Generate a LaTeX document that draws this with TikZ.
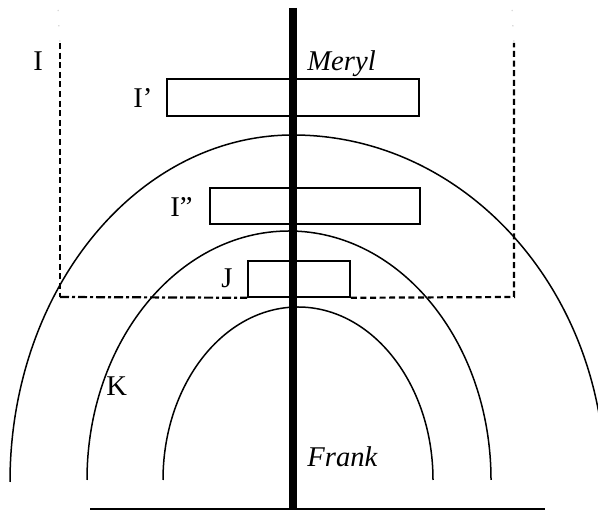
\documentclass[tikz,border=0pt]{standalone}
\usepackage{fontspec}
\setmainfont{Liberation Serif}
\begin{document}
\begin{tikzpicture} % Esquema Meryl - Frank
  [
    x=0.5pt, y=0.5pt,
    % Definimos los estilos para no repetir código
    caja/.style={draw, rectangle, line width=0.8pt, minimum height=18pt, inner sep=0pt},
    etiqueta/.style={anchor=base west, inner sep=0pt, font=\fontsize{14.3}{17}\selectfont},
    arco/.style={line width=0.75pt},
    marco/.style={line width=1.1pt, dash pattern=on 3pt off 1.8pt},
    marcopunto/.style={line width=1.1pt, dash pattern=on 4.5pt off 1.5pt on 1.5pt off 1.5pt},
    tenue/.style={gray!45, line width=0.5pt, dash pattern=on 0.6pt off 7pt}
  ]
  \useasboundingbox (0,0) rectangle (598,512);
  \clip (0,0) rectangle (598,512);
  % arcos
  \draw[arco] (10,30) arc[start angle=180, end angle=90, x radius=283, y radius=347]
    arc[start angle=90, end angle=0, x radius=312, y radius=347];
  \draw[arco] (87,32) arc[start angle=180, end angle=0, x radius=202, y radius=249];
  \draw[arco] (163,32) arc[start angle=180, end angle=0, x radius=135, y radius=173];
  % cajas
  \node[caja, minimum width=126pt, minimum height=18.5pt] (cajaIp) at (293,414.5) {};
  \node[caja, minimum width=105pt] (cajaIpp) at (315,306) {};
  \node[caja, minimum width=51pt] (cajaJ) at (299,233) {};
  % marco punteado
  \coordinate (mSupIzq) at (60,469);
  \coordinate (mInfIzq) at (60,215);
  \coordinate (mSupDer) at (514,469);
  \coordinate (mInfDer) at (514,215);
  \draw[marco] (mSupIzq) -- (mInfIzq);
  \draw[marcopunto] (mInfIzq) -- (cajaJ.south west);
  \draw[marco] (cajaJ.south east) -- (mInfDer) -- (mSupDer);
  \draw[tenue] (58,502) -- (mSupIzq);
  \draw[tenue] (512,502) -- (mSupDer);
  % eje vertical y base
  \coordinate (ejeSup) at (293,504);
  \coordinate (ejeInf) at (293,2);
  \coordinate (baseIzq) at (90,3);
  \coordinate (baseDer) at (545,3);
  \draw[line width=3.7pt] (ejeSup) -- (ejeInf);
  \draw[line width=0.8pt] (baseIzq) -- (baseDer);
  % etiquetas
  \node[etiqueta] (tI) at (33,441) {I};
  \node[etiqueta] (tIp) at (133,404) {I’};
  \node[etiqueta] (tIpp) at (170,295) {I”};
  \node[etiqueta] (tJ) at (221,224) {J};
  \node[etiqueta] (tK) at (106,116) {K};
  \node[etiqueta] (tMeryl) at (307,441) {\itshape Meryl};
  \node[etiqueta] (tFrank) at (307,45) {\itshape Frank};
\end{tikzpicture}
\end{document}
